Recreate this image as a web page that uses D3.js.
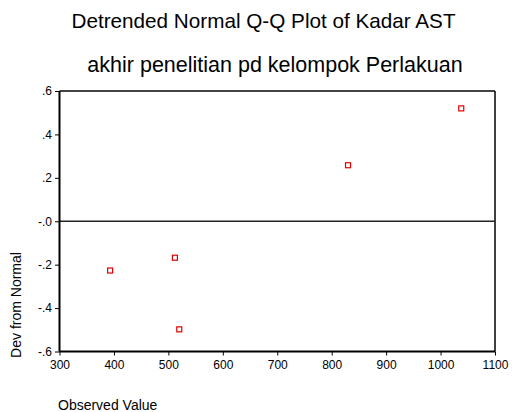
<!DOCTYPE html>
<html>
<head>
<meta charset="utf-8">
<script src="https://cdn.jsdelivr.net/npm/d3@7"></script>
<style>
body { margin: 0; background: #fff; }
svg text { font-family: "Liberation Sans", Arial, sans-serif; fill: #000; }
</style>
</head>
<body>
<div id="container"></div>
<script>
const width = 512;
const height = 412;

// data
const observed = [393, 512, 520, 830, 1038];
const devFromNormal = [-0.227, -0.168, -0.498, 0.258, 0.520];
const xTicks = [300, 400, 500, 600, 700, 800, 900, 1000, 1100];
const yTicks = [0.6, 0.4, 0.2, 0.0, -0.2, -0.4, -0.6];
const yTickLabels = [".6", ".4", ".2", "-.0", "-.2", "-.4", "-.6"];

const plotL = 59.5, plotR = 495, plotT = 91, plotB = 351.5;

const svg = d3.select("div#container").append("svg")
    .attr("width", width)
    .attr("height", height);

//----------------------------SCALES----------------------------//
const xScale = d3.scaleLinear().domain([300, 1100]).range([plotL, plotR]);
const yScale = d3.scaleLinear().domain([-0.6, 0.6]).range([plotB, plotT]);

//----------------------------TITLES----------------------------//
svg.append("text")
    .attr("x", 263.5).attr("y", 28)
    .attr("text-anchor", "middle")
    .style("font-size", "20.7px")
    .text("Detrended Normal Q-Q Plot of Kadar AST");

svg.append("text")
    .attr("x", 275).attr("y", 72)
    .attr("text-anchor", "middle")
    .style("font-size", "21.5px")
    .text("akhir penelitian pd kelompok Perlakuan");

//-----------------------------FRAME----------------------------//
svg.append("line")
    .attr("x1", plotL).attr("x2", plotR).attr("y1", plotT).attr("y2", plotT)
    .attr("stroke", "#444").attr("stroke-width", 2);
svg.append("line")
    .attr("x1", plotR).attr("x2", plotR).attr("y1", plotT).attr("y2", plotB)
    .attr("stroke", "#000").attr("stroke-width", 1.5);

// zero line
svg.append("line")
    .attr("x1", plotL).attr("x2", plotR)
    .attr("y1", yScale(0)).attr("y2", yScale(0))
    .attr("stroke", "#222").attr("stroke-width", 1.5);

//-----------------------------AXES-----------------------------//
const xaxis = d3.axisBottom(xScale)
    .tickValues(xTicks)
    .tickSize(4)
    .tickPadding(4.5)
    .tickFormat(d3.format("d"));

const yaxis = d3.axisLeft(yScale)
    .tickValues(yTicks)
    .tickSize(4.5)
    .tickPadding(3)
    .tickFormat((d, i) => yTickLabels[i]);

const gx = svg.append("g")
    .attr("transform", "translate(0," + plotB + ")")
    .call(xaxis);
const gy = svg.append("g")
    .attr("transform", "translate(" + plotL + ",0)")
    .call(yaxis);

[gx, gy].forEach(g => {
    g.select(".domain").attr("stroke", "#000").attr("stroke-width", 2);
    g.selectAll(".tick line").attr("stroke", "#000").attr("stroke-width", 1);
    g.selectAll(".tick text").style("font-size", "12px").attr("fill", "#000");
});
gx.select(".domain").attr("d", "M" + plotL + ",0H" + plotR);
gy.select(".domain").attr("d", "M0," + plotT + "V" + plotB);

//----------------------------LABELS----------------------------//
svg.append("text")
    .attr("transform", "translate(21," + 305 + ") rotate(-90)")
    .attr("text-anchor", "middle")
    .style("font-size", "14px")
    .text("Dev from Normal");

svg.append("text")
    .attr("x", 58).attr("y", 410)
    .style("font-size", "14px")
    .text("Observed Value");

//----------------------------POINTS----------------------------//
svg.selectAll("rect.pt")
    .data(observed)
    .enter()
    .append("rect")
    .attr("class", "pt")
    .attr("x", d => xScale(d) - 2.5)
    .attr("y", (d, i) => yScale(devFromNormal[i]) - 2.5)
    .attr("width", 5)
    .attr("height", 5)
    .attr("fill", "#fff")
    .attr("stroke", "#e00000")
    .attr("stroke-width", 1.2);
</script>
</body>
</html>
